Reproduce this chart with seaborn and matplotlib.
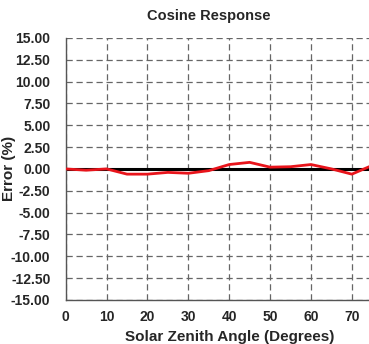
import pandas as pd
import matplotlib.pyplot as plt
from matplotlib.ticker import FormatStrFormatter
import seaborn as sns

# ── DATA ──────────────────────────────────────────────────────────────────────
angles = [0, 5, 10, 15, 20, 25, 30, 35, 40, 45, 50, 55, 60, 65, 70, 75]
errors = [0.0, -0.15, 0.0, -0.6, -0.6, -0.4, -0.5, -0.2, 0.5, 0.75, 0.2, 0.25, 0.5, 0.0, -0.6, 0.4]
x_ticks = [0, 10, 20, 30, 40, 50, 60, 70]
y_ticks = [-15, -12.5, -10, -7.5, -5, -2.5, 0, 2.5, 5, 7.5, 10, 12.5, 15]

df = pd.DataFrame({"Angle": angles, "Error": errors})

# ── PLOT ──────────────────────────────────────────────────────────────────────
sns.set_theme(style="white")
plt.rcParams["font.family"] = ["Liberation Sans", "DejaVu Sans"]

fig = plt.figure(figsize=(3.69, 3.44), dpi=100)
ax = fig.add_axes([0.178, 0.128, 0.822, 0.762])

ax.axhline(0, color="black", linewidth=2.2, zorder=2)
sns.lineplot(data=df, x="Angle", y="Error", color="#e8141b", linewidth=2,
             ax=ax, zorder=3, clip_on=True)

ax.set_xlim(0, 74.2)
ax.set_ylim(-15, 15)
ax.set_xticks(x_ticks)
ax.set_yticks(y_ticks)
ax.yaxis.set_major_formatter(FormatStrFormatter("%.2f"))
ax.grid(True, color="#666666", linestyle=(0, (5, 3)), linewidth=0.9)
ax.tick_params(axis="y", length=0, labelsize=10, pad=11)
ax.tick_params(axis="x", length=0, labelsize=10, pad=7)
for lab in ax.get_xticklabels() + ax.get_yticklabels():
    lab.set_fontweight("bold")

for s in ["top", "right"]:
    ax.spines[s].set_visible(False)
for s in ["left", "bottom"]:
    ax.spines[s].set_color("#555555")
    ax.spines[s].set_linewidth(1.0)

ax.set_title("Cosine Response", fontsize=10.5, fontweight="bold", x=0.471, y=1.0, pad=13)
ax.set_xlabel("Solar Zenith Angle (Degrees)", fontsize=11, fontweight="bold")
ax.set_ylabel("Error (%)", fontsize=11, fontweight="bold")
ax.xaxis.set_label_coords(0.54, -0.115)
ax.yaxis.set_label_coords(-0.165, 0.5)

plt.savefig("out.png", dpi=100)
plt.close()
